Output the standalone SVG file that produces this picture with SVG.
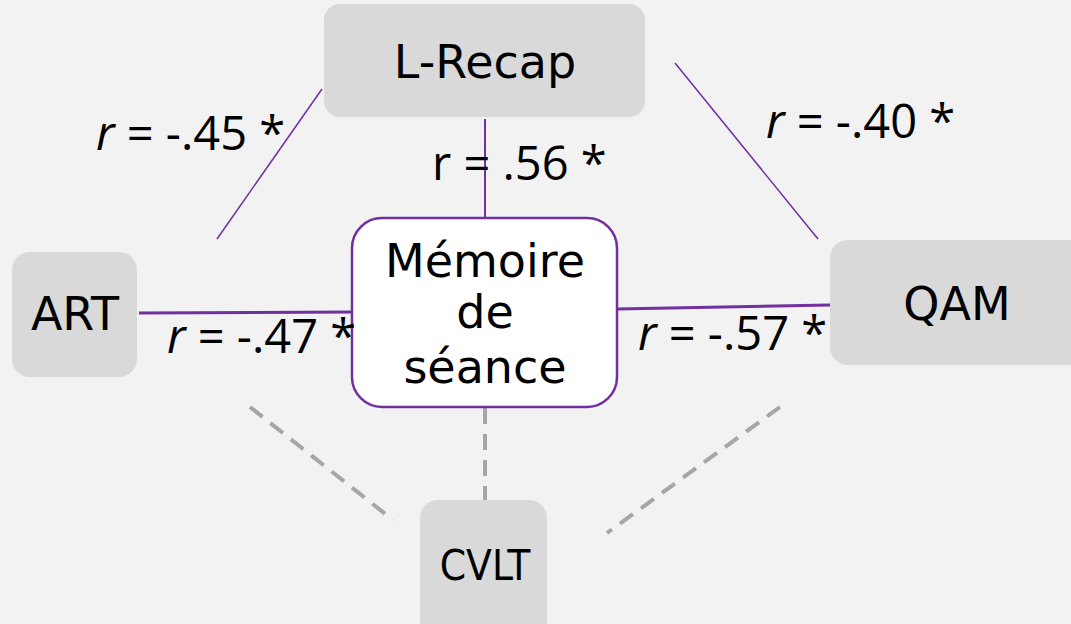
<svg xmlns="http://www.w3.org/2000/svg" width="1071" height="624" viewBox="0 0 1071 624">
<style>
.box{fill:#d9d9d9;}
.main{fill:#ffffff;stroke:#7030a0;stroke-width:2.5;}
.nt{font-family:"DejaVu Sans",Verdana,sans-serif;font-size:46px;fill:#000;text-anchor:middle;}
.cv{font-family:"DejaVu Sans Condensed","DejaVu Sans",sans-serif;font-size:42px;fill:#000;text-anchor:middle;}
.lb{font-family:"Open Sans","Noto Sans",sans-serif;font-size:47px;fill:#000;}
.it{font-style:italic;}
.pl{stroke:#7030a0;fill:none;}
.dl{stroke:#a6a6a6;stroke-width:4;stroke-dasharray:16 10;fill:none;}
</style>
<rect x="0" y="0" width="1071" height="624" fill="#f2f2f2"/>
<g id="connectors">
<line class="pl" x1="485" y1="119" x2="485" y2="218" stroke-width="2"/>
<line class="pl" x1="139" y1="313" x2="352" y2="312" stroke-width="3"/>
<line class="pl" x1="617" y1="309" x2="830" y2="305" stroke-width="3"/>
<line class="pl" x1="322" y1="89" x2="217" y2="239" stroke-width="1.5"/>
<line class="pl" x1="675" y1="63" x2="818" y2="239" stroke-width="1.5"/>
<line class="dl" x1="485" y1="408" x2="485" y2="500"/>
<line class="dl" x1="250" y1="407" x2="393" y2="520"/>
<line class="dl" x1="780" y1="407" x2="607" y2="533"/>
</g>
<g id="lrecap">
<rect class="box" x="324" y="4" width="321" height="113" rx="16"/>
<text class="nt" x="485" y="78">L-Recap</text>
</g>
<g id="art">
<rect class="box" x="12" y="252" width="125" height="125" rx="18"/>
<text class="nt" x="75" y="330">ART</text>
</g>
<g id="qam">
<rect class="box" x="830" y="240" width="260" height="125" rx="18"/>
<text class="nt" x="957" y="320">QAM</text>
</g>
<g id="cvlt">
<rect class="box" x="420" y="500" width="127" height="140" rx="18"/>
<text class="cv" x="485" y="580">CVLT</text>
</g>
<g id="memoire">
<rect class="main" x="352" y="218" width="265" height="189" rx="30"/>
<text class="nt" x="485" y="277">Mémoire</text>
<text class="nt" x="485" y="328">de</text>
<text class="nt" x="485" y="383">séance</text>
</g>
<g id="labels">
<text class="lb" x="96" y="150"><tspan class="it">r</tspan> = -.45 *</text>
<text class="lb" x="432" y="180">r = .56 *</text>
<text class="lb" x="766" y="138"><tspan class="it">r</tspan> = -.40 *</text>
<text class="lb" x="167" y="353"><tspan class="it">r</tspan> = -.47 *</text>
<text class="lb" x="638" y="350"><tspan class="it">r</tspan> = -.57 *</text>
</g>
</svg>
